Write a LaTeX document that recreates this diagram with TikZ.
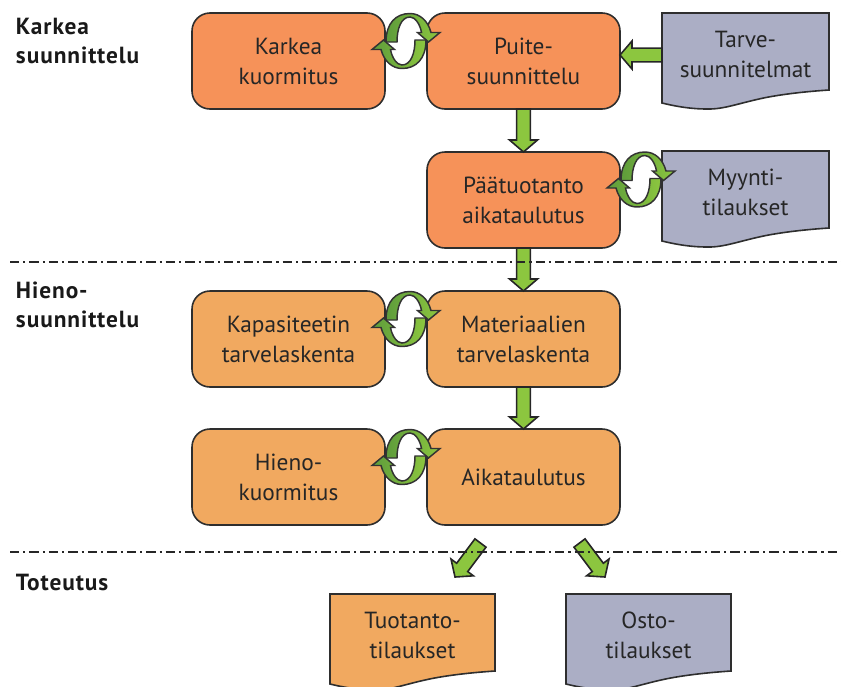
\documentclass[tikz,border=0pt]{standalone}
\usepackage{fontspec}
\setmainfont{PT Sans}
\newfontfamily\headfont[LetterSpace=4]{PT Sans}
\usetikzlibrary{calc}
\definecolor{orangeA}{HTML}{F69259}
\definecolor{orangeB}{HTML}{F1A960}
\definecolor{docgray}{HTML}{ABAEC5}
\definecolor{arrowgreen}{HTML}{8CC63F}
\definecolor{cycdark}{HTML}{5E9C3B}
\definecolor{edgedark}{HTML}{2E2E2E}
\tikzset{
  blockbox/.style={draw=edgedark,line width=1.2pt,rounded corners=13.5pt,minimum width=144.75pt,minimum height=72pt,outer sep=0pt,align=center,inner sep=0pt,font=\fontsize{17.5}{22.5}\selectfont,text=black!85},
  doctext/.style={minimum height=61.5pt,outer sep=0pt,inner sep=0pt,align=center,font=\fontsize{17.5}{22.5}\selectfont,text=black!85,anchor=north},
  docedge/.style={draw=edgedark,line width=1.2pt},
  fatarrow/.style={draw=black!85,line width=1.2pt,fill=arrowgreen,line join=miter},
  cycarrow/.style={draw=black!80,line width=1.1pt,left color=cycdark,right color=arrowgreen,line join=miter},
  sepline/.style={line width=.9pt,draw=black!85,dash pattern=on 7pt off 3pt on 1.6pt off 3pt},
  heading/.style={font=\headfont\fontsize{17.5}{21.75}\selectfont\bfseries,align=left,anchor=north west,inner sep=0pt,outer sep=0pt,text=black!90}
}
\newcommand{\fatarrowdraw}[2]{%
  \coordinate (fa) at ($(#2)!9pt!(#1)$);
  \draw[fatarrow] ($(#1)!5.2pt!90:(#2)$) -- ($(fa)!5.2pt!90:(#2)$) -- ($(fa)!10.5pt!90:(#2)$) -- (#2)
     -- ($(fa)!10.5pt!-90:(#2)$) -- ($(fa)!5.2pt!-90:(#2)$) -- ($(#1)!5.2pt!-90:(#2)$) -- cycle;
}
\newcommand{\halfcycle}{%
  \path[cycarrow] (-20,1) .. controls (-20,-18) and (-10,-27.5) .. (4,-27.5)
     .. controls (14,-27.5) and (22,-20) .. (25,-8.5) -- (34,-8.5) -- (22.5,1) -- (11.5,-8.5) -- (15.5,-8.5)
     .. controls (14,-17) and (9,-24) .. (4,-24)
     .. controls (-5,-24) and (-9,-12) .. (-9,1) -- cycle;
}
\newcommand{\cyclearrows}[1]{%
  \begin{scope}[shift={(#1)}]
    \fill[white] (0,0) ellipse [x radius=15,y radius=26];
    \halfcycle
    \begin{scope}[rotate=180]\halfcycle\end{scope}
  \end{scope}
}
% name, left x, top y, width, colour, text
\newcommand{\docnode}[6]{%
  \begin{scope}[shift={(#2,#3)}]
    \path[docedge,fill=#5] (0,0) -- (#4,0) -- (#4,77)
       .. controls (#4-30,79) and (#4-50,82) .. (#4-63,84.5)
       .. controls (#4-90,90) and (#4-105,96.5) .. (45,96)
       .. controls (28,96) and (12,93) .. (0,90) -- cycle;
  \end{scope}
  \node[doctext,minimum width=#4*0.75pt] (#1) at ($(#2,#3)+(#4/2,0)$) {#6};
}
\begin{document}
\begin{tikzpicture}[x=0.75pt,y=-0.75pt]
\useasboundingbox (0,0) rectangle (841,686);
% blocks
\node[blockbox,fill=orangeA] (karkea) at (288.5,61) {Karkea\\kuormitus};
\node[blockbox,fill=orangeA] (puite) at (523.5,61) {Puite-\\suunnittelu};
\node[blockbox,fill=orangeA] (paa) at (523.5,200) {Päätuotanto\\aikataulutus};
\node[blockbox,fill=orangeB] (kapa) at (288.5,339) {Kapasiteetin\\tarvelaskenta};
\node[blockbox,fill=orangeB] (mate) at (523.5,339) {Materiaalien\\tarvelaskenta};
\node[blockbox,fill=orangeB] (hieno) at (288.5,477) {Hieno-\\kuormitus};
\node[blockbox,fill=orangeB] (aika) at (523.5,477) {Aikataulutus};
% documents
\docnode{tarve}{662}{13}{167}{docgray}{Tarve-\\suunnitelmat}
\docnode{myynti}{662}{151}{167}{docgray}{Myynti-\\tilaukset}
\docnode{tuot}{330}{594}{165}{orangeB}{Tuotanto-\\tilaukset}
\docnode{osto}{566}{594}{165}{docgray}{Osto-\\tilaukset}
% headings
\node[heading] (h1) at (16,18) {Karkea\\suunnittelu};
\node[heading] (h2) at (16,282) {Hieno-\\suunnittelu};
\node[heading] (h3) at (16,574) {Toteutus};
% arrows
\fatarrowdraw{tarve.north west |- 0,55}{puite.east |- 0,55}
\fatarrowdraw{puite.south}{paa.north}
\fatarrowdraw{paa.south}{mate.north}
\fatarrowdraw{mate.south}{aika.north}
\coordinate (t1) at (480.5,543);
\coordinate (t2) at (455,577);
\coordinate (t3) at (579.5,543);
\coordinate (t4) at (605,577);
\fatarrowdraw{t1}{t2}
\fatarrowdraw{t3}{t4}
% cycles
\coordinate (c1) at ($(karkea.north east)!.5!(puite.north west)+(0,28)$);
\coordinate (c2) at ($(paa.north east)!.5!(myynti.north west)+(0,28)$);
\coordinate (c3) at ($(kapa.north east)!.5!(mate.north west)+(0,28)$);
\coordinate (c4) at ($(hieno.north east)!.5!(aika.north west)+(0,28)$);
\cyclearrows{c1}
\cyclearrows{c2}
\cyclearrows{c3}
\cyclearrows{c4}
% separators
\coordinate (s1a) at (10,262); \coordinate (s1b) at (841,262);
\coordinate (s2a) at (10,552); \coordinate (s2b) at (841,552);
\draw[sepline] (s1a) -- (s1b);
\draw[sepline] (s2a) -- (s2b);
\end{tikzpicture}
\end{document}
